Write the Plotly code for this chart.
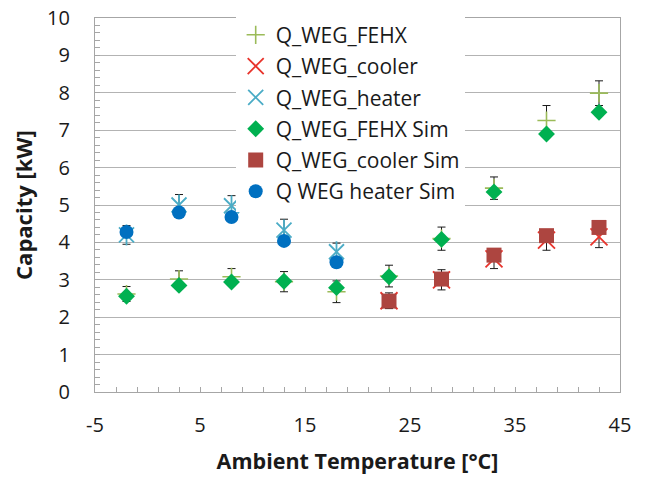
import plotly.graph_objects as go

# ---- data ----
temp_all = [-2, 3, 8, 13, 18, 23, 28, 33, 38, 43]
temp_heat = [-2, 3, 8, 13, 18]
temp_cool = [23, 28, 33, 38, 43]

fehx_meas = [2.62, 3.02, 3.08, 2.95, 2.68, 3.10, 4.10, 5.45, 7.26, 7.99]
fehx_err = [0.20, 0.22, 0.22, 0.27, 0.29, 0.29, 0.31, 0.30, 0.40, 0.33]
cool_meas = [2.44, 3.00, 3.56, 4.06, 4.15]
cool_err = [0.21, 0.27, 0.26, 0.27, 0.29]
heat_meas = [4.20, 5.00, 4.98, 4.33, 3.75]
heat_err = [0.25, 0.28, 0.27, 0.29, 0.23]

fehx_sim = [2.56, 2.85, 2.94, 2.96, 2.79, 3.08, 4.08, 5.35, 6.90, 7.48]
cool_sim = [2.43, 3.02, 3.66, 4.18, 4.40]
heat_sim = [4.28, 4.80, 4.68, 4.04, 3.47]

x_tickvals = [-5, 5, 15, 25, 35, 45]
x_ticktext = ["-5", "5", "15", "25", "35", "45"]

names = ["Q_WEG_FEHX", "Q_WEG_cooler", "Q_WEG_heater",
         "Q_WEG_FEHX Sim", "Q_WEG_cooler Sim", "Q WEG heater Sim"]

c_fehx = "#9bbb59"
c_cool = "#e8342c"
c_heat = "#4bacc6"
c_fehx_sim = "#00b050"
c_cool_sim = "#ad4540"
c_heat_sim = "#0070c0"

def eb(err):
    return dict(type="data", array=err, visible=True, color="#1a1a1a",
                thickness=1, width=4)

fig = go.Figure()

fig.add_trace(go.Scatter(x=temp_all, y=fehx_meas, mode="markers", name=names[0],
                         legendgroup="g1", error_y=eb(fehx_err),
                         marker=dict(symbol="cross-thin", size=13, color=c_fehx,
                                     line=dict(color=c_fehx, width=1.6))))
fig.add_trace(go.Scatter(x=temp_cool, y=cool_meas, mode="markers", name=names[1],
                         legendgroup="g2", error_y=eb(cool_err),
                         marker=dict(symbol="x-thin", size=17, color=c_cool,
                                     line=dict(color=c_cool, width=1.8))))
fig.add_trace(go.Scatter(x=temp_heat, y=heat_meas, mode="markers", name=names[2],
                         legendgroup="g3", error_y=eb(heat_err),
                         marker=dict(symbol="x-thin", size=15, color=c_heat,
                                     line=dict(color=c_heat, width=1.8))))
fig.add_trace(go.Scatter(x=temp_heat, y=heat_meas, mode="markers", showlegend=False,
                         legendgroup="g3", hoverinfo="skip",
                         marker=dict(symbol="line-ns", size=15, color=c_heat,
                                     line=dict(color=c_heat, width=1.8))))
fig.add_trace(go.Scatter(x=temp_all, y=fehx_sim, mode="markers", name=names[3],
                         legendgroup="g4",
                         marker=dict(symbol="diamond", size=13, color=c_fehx_sim,
                                     line=dict(width=0))))
fig.add_trace(go.Scatter(x=temp_cool, y=cool_sim, mode="markers", name=names[4],
                         legendgroup="g5",
                         marker=dict(symbol="square", size=15, color=c_cool_sim,
                                     line=dict(width=0))))
fig.add_trace(go.Scatter(x=temp_heat, y=heat_sim, mode="markers", name=names[5],
                         legendgroup="g6",
                         marker=dict(symbol="circle", size=14, color=c_heat_sim,
                                     line=dict(width=0))))

font_main = "Open Sans, Noto Sans, sans-serif"

fig.update_layout(
    width=647, height=477,
    margin=dict(l=95, r=27, t=18, b=85, autoexpand=False),
    paper_bgcolor="white", plot_bgcolor="white",
    font=dict(family=font_main, color="#1a1a1a"),
    showlegend=True,
    legend=dict(x=0.268, y=1.009, xanchor="left", yanchor="top",
                bgcolor="white", font=dict(size=21, color="#1a1a1a"),
                tracegroupgap=1, traceorder="grouped",
                itemsizing="trace"),
    xaxis=dict(range=[-5, 45], tickvals=x_tickvals, ticktext=x_ticktext,
               showgrid=False, zeroline=False,
               showline=True, linecolor="#a6a6a6", linewidth=1.3, mirror=True,
               ticks="inside", ticklen=5, tickcolor="#a6a6a6",
               minor=dict(dtick=2, tick0=-5, ticks="inside", ticklen=5,
                          tickcolor="#a6a6a6", showgrid=False),
               tickfont=dict(size=20, color="#1a1a1a"),
               ticklabelstandoff=15,
               title=dict(text="<b>Ambient Temperature [°C]</b>",
                          font=dict(size=21.5, color="#1a1a1a"), standoff=16)),
    yaxis=dict(range=[0, 10], dtick=1,
               showgrid=True, gridcolor="#b3b3b3", gridwidth=1.3,
               zeroline=False,
               showline=True, linecolor="#a6a6a6", linewidth=1.3, mirror=True,
               ticks="inside", ticklen=5, tickcolor="#a6a6a6",
               minor=dict(dtick=0.2, ticks="inside", ticklen=5,
                          tickcolor="#a6a6a6", showgrid=False),
               tickfont=dict(size=20, color="#1a1a1a"),
               ticklabelstandoff=20,
               title=dict(text="<b>Capacity [kW]</b>",
                          font=dict(size=22, color="#1a1a1a"), standoff=8)),
)

fig.write_html("out.html")
